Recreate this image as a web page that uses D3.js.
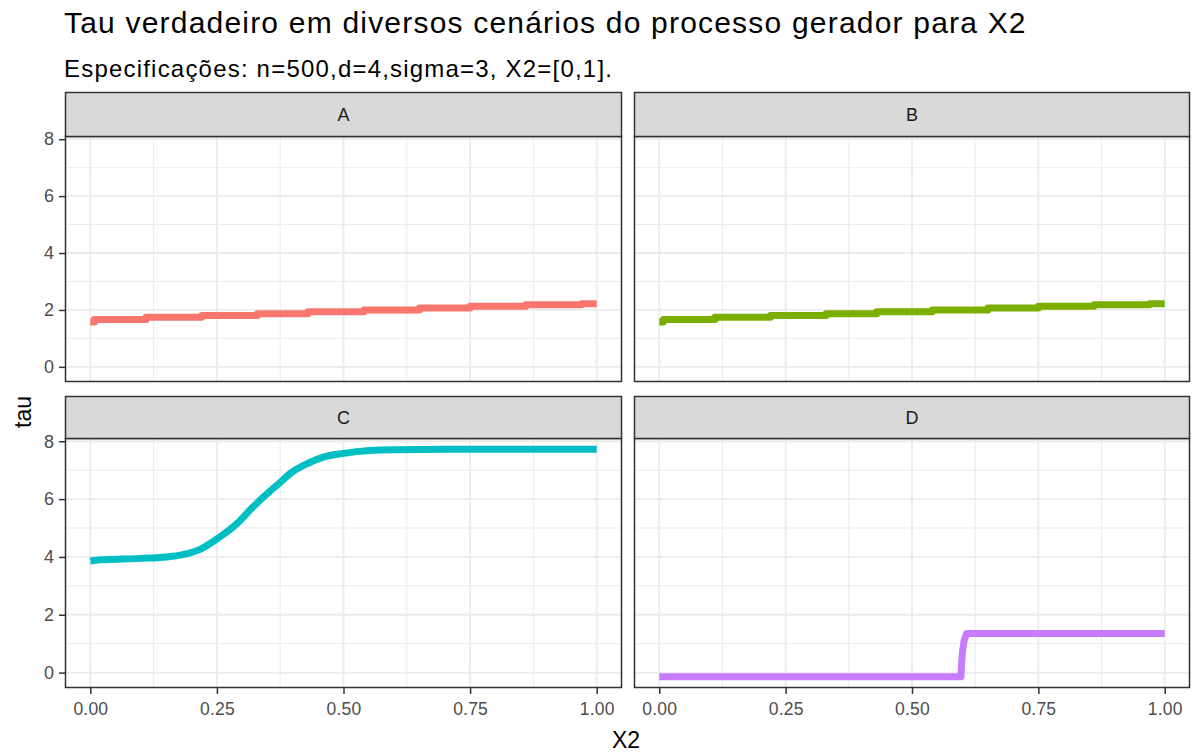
<!DOCTYPE html>
<html><head><meta charset="utf-8">
<script src="https://cdn.jsdelivr.net/npm/d3@7"></script>
<style>body{margin:0;background:#fff;} text{font-family:"Liberation Sans",Arial,sans-serif;}</style>
</head><body><svg id="c" width="1197" height="754"></svg>
<script>
const facets = ["A", "B", "C", "D"];
const colors = ["#F8766D", "#7CAE00", "#00BFC4", "#C77CFF"];
const xTicks = [0, 0.25, 0.5, 0.75, 1];
const yTicks = [0, 2, 4, 6, 8];
const xMinor = [0.125, 0.375, 0.625, 0.875];
const yMinor = [1, 3, 5, 7];

const xA = [0, 0.008, 0.11, 0.22, 0.33, 0.43, 0.54, 0.65, 0.75, 0.86, 0.97, 1.0];
const tauA = [1.58, 1.66, 1.74, 1.80, 1.87, 1.94, 2.00, 2.07, 2.13, 2.18, 2.22, 2.22];
const xB = [0, 0.008, 0.11, 0.22, 0.33, 0.43, 0.54, 0.65, 0.75, 0.86, 0.97, 1.0];
const tauB = [1.58, 1.66, 1.74, 1.80, 1.87, 1.94, 2.00, 2.07, 2.13, 2.18, 2.22, 2.22];
const xC = [0, 0.02, 0.1, 0.15, 0.18, 0.22, 0.255, 0.29, 0.32, 0.35, 0.375, 0.395, 0.43, 0.46, 0.5, 0.55, 0.6, 0.7, 1.0];
const tauC = [3.86, 3.9, 3.95, 4.0, 4.07, 4.29, 4.68, 5.16, 5.71, 6.2, 6.58, 6.89, 7.24, 7.45, 7.58, 7.68, 7.71, 7.72, 7.72];
const xD = [0, 0.597, 0.598, 0.600, 0.603, 0.608, 1.0];
const tauD = [-0.14, -0.14, 0.3, 0.75, 1.1, 1.35, 1.35];

const series = [
  {x: xA, y: tauA, curve: d3.curveStepAfter},
  {x: xB, y: tauB, curve: d3.curveStepAfter},
  {x: xC, y: tauC, curve: d3.curveMonotoneX},
  {x: xD, y: tauD, curve: d3.curveLinear}
];

const svg = d3.select("#c");
const cols = [[65, 622], [634, 1190]];
const rows = [{strip: 92, top: 136, bottom: 382}, {strip: 396, top: 438, bottom: 688}];

const allY = [].concat(tauA, tauB, tauC, tauD);
const ext = d3.extent(allY);
const pad = (ext[1] - ext[0]) * 0.05;
const yDomain = [ext[0] - pad, ext[1] + pad];
const xDomain = [-0.05, 1.05];
const FONT = "Liberation Sans, Arial, sans-serif";

svg.append("text").attr("x", 64).attr("y", 33).style("font-size", "30px").attr("letter-spacing", 1.2).attr("fill", "#000")
  .text("Tau verdadeiro em diversos cenários do processo gerador para X2");
svg.append("text").attr("x", 64).attr("y", 77).style("font-size", "24px").attr("letter-spacing", 1.2).attr("fill", "#000")
  .text("Especificações: n=500,d=4,sigma=3, X2=[0,1].");

facets.forEach((f, i) => {
  const c = cols[i % 2], r = rows[Math.floor(i / 2)];
  const x = d3.scaleLinear().domain(xDomain).range([c[0], c[1]]);
  const y = d3.scaleLinear().domain(yDomain).range([r.bottom, r.top]);
  const g = svg.append("g");
  g.append("rect").attr("x", c[0]).attr("y", r.top).attr("width", c[1] - c[0]).attr("height", r.bottom - r.top).attr("fill", "#fff");
  xMinor.forEach(v => g.append("line").attr("x1", x(v)).attr("x2", x(v)).attr("y1", r.top).attr("y2", r.bottom).attr("stroke", "#EBEBEB").attr("stroke-width", 1));
  yMinor.forEach(v => g.append("line").attr("y1", y(v)).attr("y2", y(v)).attr("x1", c[0]).attr("x2", c[1]).attr("stroke", "#EBEBEB").attr("stroke-width", 1));
  xTicks.forEach(v => g.append("line").attr("x1", x(v)).attr("x2", x(v)).attr("y1", r.top).attr("y2", r.bottom).attr("stroke", "#EBEBEB").attr("stroke-width", 1.8));
  yTicks.forEach(v => g.append("line").attr("y1", y(v)).attr("y2", y(v)).attr("x1", c[0]).attr("x2", c[1]).attr("stroke", "#EBEBEB").attr("stroke-width", 1.8));
  const s = series[i];
  const pts = s.x.map((xv, k) => [xv, s.y[k]]);
  const line = d3.line().x(d => x(d[0])).y(d => y(d[1])).curve(s.curve);
  g.append("path").attr("d", line(pts)).attr("fill", "none").attr("stroke", colors[i]).attr("stroke-width", 7).attr("stroke-linejoin", "round");
  g.append("rect").attr("x", c[0] + 0.5).attr("y", r.top + 0.5).attr("width", c[1] - c[0] - 1).attr("height", r.bottom - r.top - 1).attr("fill", "none").attr("stroke", "#333333").attr("stroke-width", 1.5);
  g.append("rect").attr("x", c[0] + 0.5).attr("y", r.strip + 0.5).attr("width", c[1] - c[0] - 1).attr("height", r.top - r.strip).attr("fill", "#D9D9D9").attr("stroke", "#333333").attr("stroke-width", 1.5);
  g.append("text").attr("x", (c[0] + c[1]) / 2).attr("y", (r.strip + r.top) / 2 + 6.5).attr("text-anchor", "middle").style("font-size", "18px").attr("fill", "#1A1A1A").text(f);
  if (i % 2 === 0) {
    const ya = d3.axisLeft(y).tickValues(yTicks).tickSize(6).tickPadding(5).tickFormat(d3.format("d"));
    const ga = svg.append("g").attr("transform", `translate(${c[0]},0)`).call(ya);
    ga.attr("font-size", null).attr("font-family", null);
    ga.select(".domain").remove();
    ga.selectAll(".tick line").attr("stroke", "#333333").attr("stroke-width", 1.5);
    ga.selectAll(".tick text").style("font-size", "18px").attr("fill", "#4D4D4D").style("font-family", FONT);
  }
  if (i >= 2) {
    const xa = d3.axisBottom(x).tickValues(xTicks).tickSize(6).tickPadding(9).tickFormat(d3.format(".2f"));
    const ga = svg.append("g").attr("transform", `translate(0,${r.bottom})`).call(xa);
    ga.attr("font-size", null).attr("font-family", null);
    ga.select(".domain").remove();
    ga.selectAll(".tick line").attr("stroke", "#333333").attr("stroke-width", 1.5);
    ga.selectAll(".tick text").style("font-size", "17.5px").attr("letter-spacing", 0.2).attr("fill", "#4D4D4D").style("font-family", FONT);
  }
});

svg.append("text").attr("x", 626).attr("y", 748).attr("text-anchor", "middle").style("font-size", "23px").attr("fill", "#000").text("X2");
svg.append("text").attr("transform", "translate(31,412) rotate(-90)").attr("text-anchor", "middle").style("font-size", "23px").attr("fill", "#000").text("tau");
</script></body></html>
